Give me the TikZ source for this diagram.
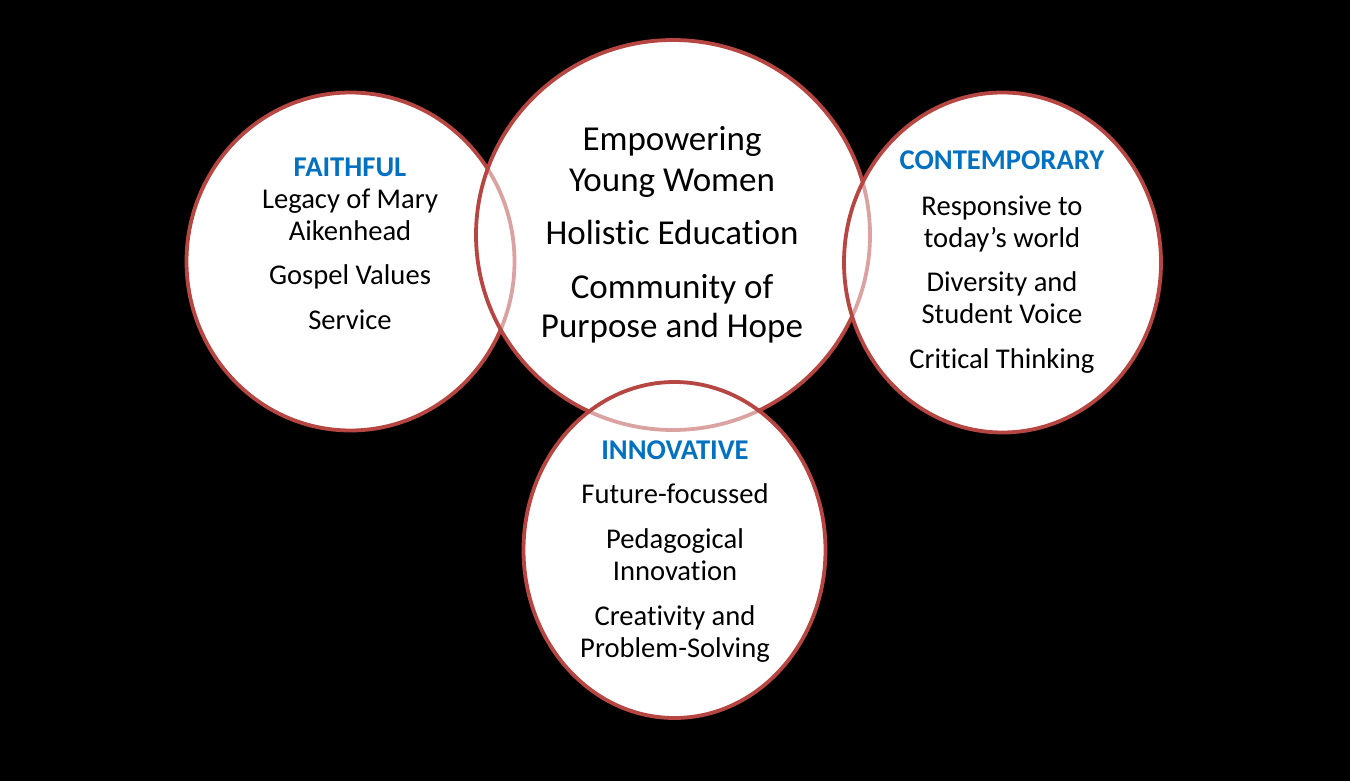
\documentclass[tikz,border=0pt]{standalone}
\usepackage{fontspec}
\setmainfont{Carlito}[Ligatures=CommonOff]
\definecolor{ring}{RGB}{181,70,66}
\definecolor{ttl}{RGB}{0,112,192}
\begin{document}
\begin{tikzpicture}[x=1pt,y=-1pt,
  ringline/.style={draw=ring,line width=3.8pt},
  veil/.style={fill=white,fill opacity=0.5},
  body/.style={font=\fontsize{28.6}{32}\selectfont,anchor=base,inner sep=0pt,text=black},
  big/.style={font=\fontsize{35}{40}\selectfont,anchor=base,inner sep=0pt,text=black},
  head/.style={font=\fontsize{28.6}{32}\selectfont\bfseries,anchor=base,inner sep=0pt,text=ttl}]
\fill[black] (0,0) rectangle (1350,781);
\useasboundingbox (0,0) rectangle (1350,781);
\coordinate (L) at (350.5,261.5);
\coordinate (C) at (673,235);
\coordinate (R) at (1002.5,262.5);
\coordinate (B) at (674.5,550);
% opaque white bases
\fill[white] (L) ellipse [x radius=164pt, y radius=169pt];
\fill[white] (C) ellipse [x radius=197pt, y radius=195pt];
\fill[white] (R) ellipse [x radius=158.5pt, y radius=170pt];
\fill[white] (B) ellipse [x radius=151pt, y radius=168pt];
% stacked rings
\draw[ringline] (L) ellipse [x radius=164pt, y radius=169pt];
\fill[veil] (C) ellipse [x radius=197pt, y radius=195pt];
\draw[ringline] (C) ellipse [x radius=197pt, y radius=195pt];
\fill[veil] (R) ellipse [x radius=158.5pt, y radius=170pt];
\draw[ringline] (R) ellipse [x radius=158.5pt, y radius=170pt];
\fill[veil] (B) ellipse [x radius=151pt, y radius=168pt];
\draw[ringline] (B) ellipse [x radius=151pt, y radius=168pt];
% left
\node[head] (l0) at (350,176) {FAITHFUL};
\node[body] (l1) at (350,208) {Legacy of Mary};
\node[body] (l2) at (350,240) {Aikenhead};
\node[body] (l3) at (350,284) {Gospel Values};
\node[body] (l4) at (350,329) {Service};
% center
\node[big] (c1) at (672,151) {Empowering};
\node[big] (c2) at (672,191) {Young Women};
\node[big] (c3) at (672,244) {Holistic Education};
\node[big] (c4) at (672,298) {Community of};
\node[big] (c5) at (672,337) {Purpose and Hope};
% right
\node[head] (r0) at (1002,170) {CONTEMPORARY};
\node[body] (r1) at (1002,215) {Responsive to};
\node[body] (r2) at (1002,247) {today’s world};
\node[body] (r3) at (1002,291) {Diversity and};
\node[body] (r4) at (1002,323) {Student Voice};
\node[body] (r5) at (1002,368) {Critical Thinking};
% bottom
\node[head] (b0) at (675,459) {INNOVATIVE};
\node[body] (b1) at (675,503) {Future-focussed};
\node[body] (b2) at (675,548) {Pedagogical};
\node[body] (b3) at (675,580) {Innovation};
\node[body] (b4) at (675,625) {Creativity and};
\node[body] (b5) at (675,657) {Problem-Solving};
\end{tikzpicture}
\end{document}
